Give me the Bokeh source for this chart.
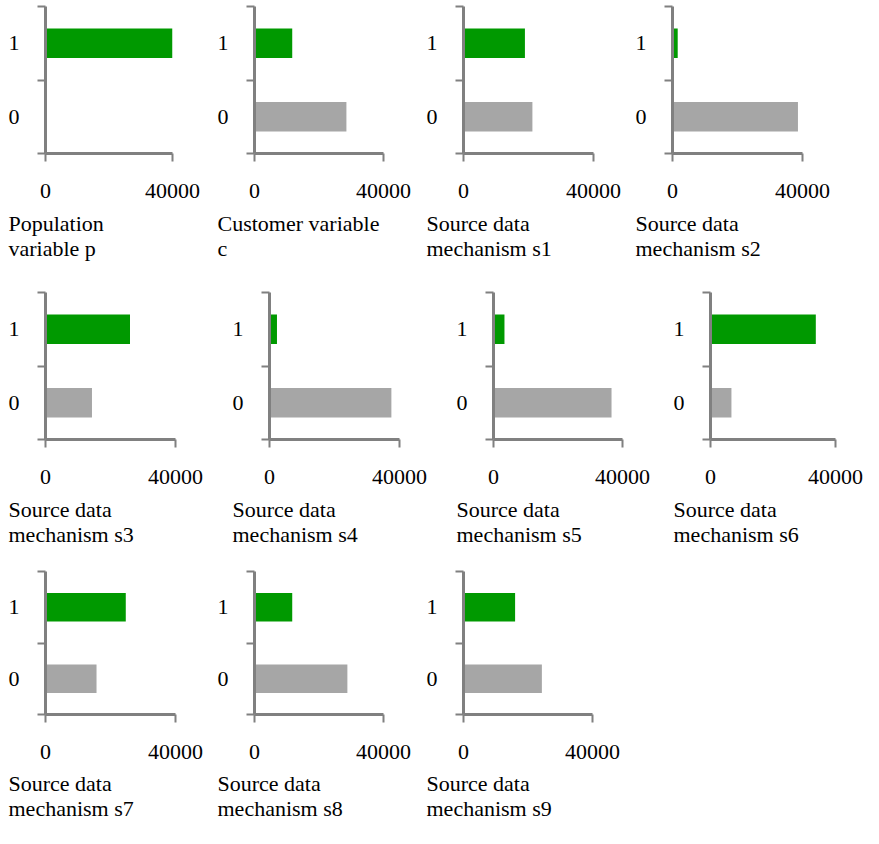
from bokeh.plotting import figure
from bokeh.layouts import column, row
from bokeh.models import Range1d, FixedTicker, Title, ColumnDataSource
from bokeh.embed import file_html
from bokeh.resources import INLINE

# ---- data ----
categories = ["0", "1"]
panel_titles = [
    "Population\nvariable p",
    "Customer variable\nc",
    "Source data\nmechanism s1",
    "Source data\nmechanism s2",
    "Source data\nmechanism s3",
    "Source data\nmechanism s4",
    "Source data\nmechanism s5",
    "Source data\nmechanism s6",
    "Source data\nmechanism s7",
    "Source data\nmechanism s8",
    "Source data\nmechanism s9",
]
count_0 = [0, 28500, 21200, 38600, 14300, 37500, 36600, 6700, 15700, 28800, 24300]
count_1 = [40000, 11700, 18900, 1600, 26000, 2300, 3400, 33700, 24700, 11700, 16000]
x_ticks = [0, 40000]
x_max = 40000

FONT = "Liberation Serif"
FS = "22px"
AXIS_COLOR = "#808080"
GREEN = "#009900"
GRAY = "#a6a6a6"


def make_panel(i, width, height, left, frame_w, top, title_standoff, frame_h=147):
    p = figure(width=width, height=height, title=None,
               x_range=Range1d(0, x_max), y_range=Range1d(0, len(categories)),
               output_backend="svg", toolbar_location=None,
               min_border_left=left, min_border_right=width - left - frame_w,
               min_border_top=top, min_border_bottom=height - top - frame_h)
    p.outline_line_color = None
    p.xgrid.visible = False
    p.ygrid.visible = False
    centers = [k + 0.5 for k in range(len(categories))]
    src = ColumnDataSource(dict(y=centers, right=[count_0[i], count_1[i]],
                                color=[GRAY, GREEN]))
    p.hbar(y="y", left=0, right="right", height=0.4, source=src,
           fill_color="color", line_color=None)

    # x axis
    xa = p.xaxis[0]
    xa.ticker = FixedTicker(ticks=x_ticks, minor_ticks=[])
    xa.axis_line_color = AXIS_COLOR
    xa.axis_line_width = 3
    xa.major_tick_line_color = AXIS_COLOR
    xa.major_tick_line_width = 2
    xa.major_tick_out = 8
    xa.major_tick_in = 0
    xa.minor_tick_line_color = None
    xa.major_label_standoff = 22
    xa.major_label_text_font = FONT
    xa.major_label_text_font_size = FS
    xa.major_label_text_color = "black"

    # y axis: labels at centres, tick marks at category boundaries
    ya = p.yaxis[0]
    ya.ticker = FixedTicker(ticks=centers,
                            minor_ticks=list(range(len(categories) + 1)))
    ya.major_label_overrides = {c: lab for c, lab in zip(centers, categories)}
    ya.axis_line_color = AXIS_COLOR
    ya.axis_line_width = 3
    ya.major_tick_line_color = None
    ya.major_tick_out = 0
    ya.major_tick_in = 0
    ya.minor_tick_line_color = AXIS_COLOR
    ya.minor_tick_line_width = 2
    ya.minor_tick_out = 8
    ya.minor_tick_in = 0
    ya.major_label_standoff = 18
    ya.major_label_text_font = FONT
    ya.major_label_text_font_size = FS
    ya.major_label_text_color = "black"

    t = Title(text=panel_titles[i], align="left", offset=-37, standoff=title_standoff,
              text_font=FONT, text_font_size=FS, text_font_style="normal",
              text_color="black")
    p.add_layout(t, "below")
    return p


# (panel indices, figure widths, left borders, frame widths, row height, top border, title standoff)
rows_spec = [
    ([0, 1, 2, 3], [209, 209, 209, 209], [45, 45, 45, 45], [127, 129, 130, 130], 281, 6, 17),
    ([4, 5, 6, 7], [221, 221, 221, 200], [45, 48, 51, 47], [130, 130, 129, 125], 283, 11, 17),
    ([8, 9, 10], [209, 209, 209], [45, 45, 45], [130, 129, 129], 264, 7, 15),
]

rows = []
for idxs, widths, lefts, frames, h, top, ts in rows_spec:
    rows.append(row(*[make_panel(i, w, h, l, fw, top, ts)
                      for i, w, l, fw in zip(idxs, widths, lefts, frames)]))

layout = column(*rows)

open("out.html", "w").write(file_html(layout, INLINE))
